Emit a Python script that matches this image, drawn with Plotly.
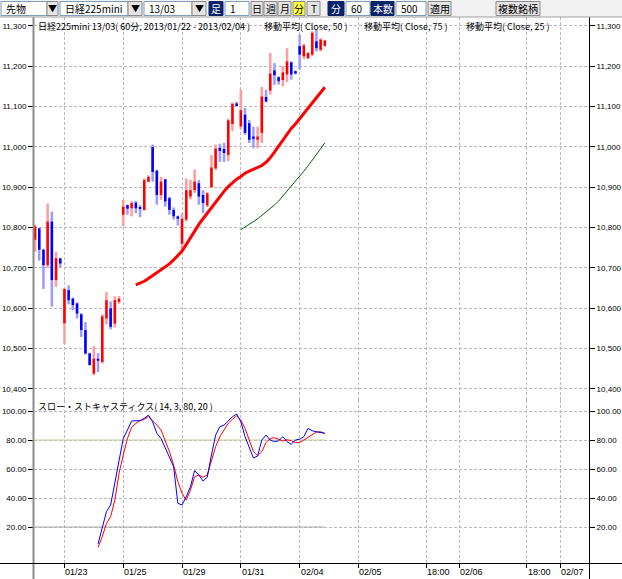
import plotly.graph_objects as go

# ---------------- data ----------------
bar_index = list(range(70))
open_ = [10770, 10798, 10745, 10707, 10815, 10670, 10724,
         10563, 10645, 10624, 10612, 10585, 10546, 10488,
         10438, 10475, 10467, 10575, 10600, 10562, 10616,
         10832, 10856, 10848, 10862, 10850, 10844, 10914,
         11000, 10941, 10881, 10920, 10873, 10844, 10828,
         10760, 10820, 10877, 10893, 10910, 10881, 10855,
         10900, 10947, 10998, 10995, 10980, 11057, 11108,
         11051, 11080, 11059, 11026, 11018, 11035, 11124,
         11140, 11190, 11173, 11166, 11180, 11210, 11188,
         11250, 11225, 11220, 11229, 11262, 11241, 11251]
high = [10808, 10800, 10748, 10860, 10840, 10740, 10724,
        10649, 10657, 10627, 10615, 10588, 10566, 10490,
        10506, 10489, 10585, 10640, 10617, 10630, 10630,
        10869, 10857, 10866, 10866, 10856, 10922, 10930,
        11006, 10944, 10926, 10920, 10877, 10850, 10830,
        10836, 10922, 10918, 10944, 10918, 10893, 10888,
        10980, 11006, 11008, 11010, 11070, 11110, 11112,
        11142, 11097, 11067, 11050, 11050, 11149, 11142,
        11233, 11208, 11175, 11200, 11245, 11212, 11190,
        11279, 11256, 11235, 11287, 11291, 11270, 11266]
low = [10740, 10718, 10648, 10700, 10604, 10653, 10700,
       10512, 10610, 10595, 10575, 10529, 10485, 10459,
       10434, 10442, 10463, 10560, 10548, 10552, 10611,
       10803, 10832, 10828, 10836, 10826, 10842, 10912,
       10914, 10857, 10869, 10852, 10832, 10820, 10805,
       10738, 10815, 10870, 10886, 10857, 10836, 10851,
       10898, 10943, 10963, 10963, 10965, 11040, 11100,
       11045, 11030, 11010, 10997, 10997, 11010, 11110,
       11130, 11154, 11155, 11150, 11161, 11167, 11180,
       11192, 11218, 11218, 11225, 11237, 11237, 11248]
close = [10803, 10745, 10707, 10815, 10670, 10724, 10711,
         10648, 10620, 10608, 10587, 10546, 10488, 10459,
         10475, 10470, 10580, 10620, 10554, 10620, 10624,
         10852, 10847, 10861, 10848, 10847, 10918, 10926,
         10938, 10881, 10914, 10865, 10844, 10828, 10822,
         10822, 10893, 10893, 10914, 10877, 10861, 10885,
         10949, 10996, 10990, 10985, 11066, 11107, 11104,
         11091, 11035, 11018, 11020, 11026, 11125, 11113,
         11182, 11178, 11163, 11185, 11212, 11180, 11182,
         11229, 11252, 11233, 11283, 11245, 11266, 11264]

# moving average (Close, 50): last 46 bars
ma50 = [10658, 10662, 10667, 10674, 10681, 10688, 10694, 10701, 10710, 10720,
        10732, 10742, 10758, 10775, 10792, 10808, 10822, 10836, 10850, 10864,
        10878, 10890, 10902, 10912, 10920, 10927, 10935, 10940, 10944, 10948,
        10954, 10962, 10973, 10987, 11002, 11018, 11034, 11046, 11057, 11070,
        11083, 11097, 11111, 11124, 11137, 11148]
# moving average (Close, 75): last 21 bars
ma75 = [10795, 10801, 10808, 10815, 10822, 10830, 10838, 10847, 10856, 10866,
        10878, 10890, 10903, 10916, 10928, 10940, 10953, 10967, 10981, 10996,
        11010]

# slow stochastics (14, 3, 80, 20): last 55 bars
stoch_k = [8.3, 20.2, 30.6, 35.2, 50.1, 65.1, 81.1, 86.9, 93.1, 93.3,
           93.3, 94.9, 97.2, 92.6, 84.6, 81.1, 74.3, 67.4, 61.6, 36.3,
           35.2, 40.9, 47.8, 58.9, 55.9, 51.7, 54.3, 69.7, 83.4, 89.2,
           90.3, 93.1, 96.1, 97.9, 92.6, 82.3, 74.3, 67.6, 69.0, 80.0,
           83.4, 80.0, 78.9, 79.5, 82.3, 78.9, 77.0, 80.0, 80.5, 82.3,
           88.0, 86.4, 85.7, 85.1, 84.6]
stoch_d = [6.0, 13.3, 22.5, 27.1, 38.6, 57.0, 69.7, 81.1, 88.7, 91.5,
           93.3, 94.3, 96.1, 93.3, 90.3, 86.9, 80.0, 72.0, 62.8, 51.3,
           43.2, 38.6, 45.5, 54.7, 55.9, 54.3, 55.9, 66.2, 75.4, 82.3,
           87.4, 91.5, 94.3, 96.6, 93.8, 88.0, 80.0, 72.0, 69.2, 72.0,
           78.2, 81.1, 81.6, 80.5, 79.3, 80.2, 79.5, 78.2, 78.2, 80.0,
           81.8, 83.9, 85.5, 85.7, 84.6]
stoch_levels = [80, 20]

price_ticks = [10400, 10500, 10600, 10700, 10800, 10900, 11000, 11100, 11200, 11300]
stoch_ticks = [20, 40, 60, 80, 100]
xtick_pos = [7, 21, 35, 49, 63, 77, 93.1, 101, 117.1, 125]
xtick_text = ["01/23", "01/25", "01/29", "01/31", "02/04",
              "02/05", "18:00", "02/06", "18:00", "02/07"]

title_text = "日経225mini 13/03( 60分, 2013/01/22 - 2013/02/04 )"
ma_labels = ["移動平均( Close, 50 )", "移動平均( Close, 75 )", "移動平均( Close, 25 )"]
stoch_label = "スロー・ストキャスティクス( 14, 3, 80, 20 )"

# ---------------- layout helpers ----------------
W, H = 622, 579
ML, MR, MT, MB = 34, 33, 17, 16
PW, PH = W - ML - MR, H - MT - MB


def px(x):
    return (x - ML) / PW


def py(y):
    return (H - MB - y) / PH


split = py(400)
NUMFONT = "Liberation Sans, Arial, sans-serif"
JPFONT = "Noto Sans CJK JP"
GRIDC = "#bdb6c6"

fig = go.Figure()

# candles: pale high-low range + solid body
for is_up, solid, pale in [(True, "#ff0000", "#ff9c9c"), (False, "#0000ff", "#9c9cff")]:
    sel = [i for i in bar_index if (close[i] >= open_[i]) == is_up]
    fig.add_trace(go.Bar(
        x=sel, y=[high[i] - low[i] for i in sel], base=[low[i] for i in sel],
        width=0.6, marker=dict(color=pale, line=dict(width=0)),
        yaxis="y", hoverinfo="skip"))
    fig.add_trace(go.Bar(
        x=sel, y=[max(abs(close[i] - open_[i]), 3) for i in sel],
        base=[min(open_[i], close[i]) for i in sel],
        width=0.6, marker=dict(color=solid, line=dict(width=0)),
        yaxis="y", hoverinfo="skip"))

fig.add_trace(go.Scatter(x=bar_index[len(bar_index) - len(ma50):], y=ma50, mode="lines",
                         line=dict(color="#ff0000", width=3), yaxis="y"))
fig.add_trace(go.Scatter(x=bar_index[len(bar_index) - len(ma75):], y=ma75, mode="lines",
                         line=dict(color="#006400", width=1), yaxis="y"))

# stochastics
lvl_colors = ["#cccc99", "#a8a8a8"]
for lv, col in zip(stoch_levels, lvl_colors):
    fig.add_trace(go.Scatter(x=[bar_index[0], bar_index[-1]], y=[lv, lv], mode="lines",
                             line=dict(color=col, width=1), yaxis="y2"))
sx = bar_index[len(bar_index) - len(stoch_k):]
fig.add_trace(go.Scatter(x=sx, y=stoch_d, mode="lines", line=dict(color="#ff0000", width=1), yaxis="y2"))
fig.add_trace(go.Scatter(x=sx, y=stoch_k, mode="lines", line=dict(color="#0000ff", width=1), yaxis="y2"))

# invisible traces to carry the right-hand axes
fig.add_trace(go.Scatter(x=[bar_index[0]], y=[close[0]], mode="markers", marker=dict(opacity=0),
                         yaxis="y3", hoverinfo="skip"))
fig.add_trace(go.Scatter(x=[bar_index[0]], y=[stoch_k[0]], mode="markers", marker=dict(opacity=0),
                         yaxis="y4", hoverinfo="skip"))

price_range = [10372.6, 11322.3]
stoch_range = [-4.83, 107.6]
tickfont = dict(family=NUMFONT, size=8, color="#000000")
grid = dict(showgrid=True, gridcolor=GRIDC, griddash="3px,2px", gridwidth=1, zeroline=False)
yticks = dict(ticks="outside", ticklen=5, tickcolor="#000000", tickwidth=1, tickfont=tickfont,
              showline=False, automargin=False)

fig.update_layout(
    width=W, height=H,
    margin=dict(l=ML, r=MR, t=MT, b=MB, pad=0, autoexpand=False),
    paper_bgcolor="white", plot_bgcolor="white",
    barmode="overlay", showlegend=False, hovermode=False,
    xaxis=dict(domain=[0, 1], range=[-0.25, 131.9], anchor="y2", tickvals=xtick_pos,
               ticks="outside", ticklen=4, tickcolor="#000000", showticklabels=False,
               showline=False, automargin=False, **grid),
    yaxis=dict(domain=[split, 1], range=price_range, tickvals=price_ticks, tickformat=",",
               anchor="x", **yticks, **grid),
    yaxis2=dict(domain=[0, split], range=stoch_range, tickvals=stoch_ticks, tickformat=".2f",
                anchor="x", **yticks, **grid),
    yaxis3=dict(overlaying="y", side="right", range=price_range, tickvals=price_ticks,
                tickformat=",", anchor="x", showgrid=False, zeroline=False, **yticks),
    yaxis4=dict(overlaying="y2", side="right", range=stoch_range, tickvals=stoch_ticks,
                tickformat=".2f", anchor="x", showgrid=False, zeroline=False, **yticks),
)

shapes = []
annots = []

# frame lines
shapes.append(dict(type="line", xref="paper", yref="paper", x0=px(33.5), x1=px(33.5),
                   y0=py(579), y1=py(17), line=dict(color="#8c8c8c", width=2)))
shapes.append(dict(type="line", xref="paper", yref="paper", x0=px(589.5), x1=px(589.5),
                   y0=py(579), y1=py(17), line=dict(color="#000000", width=1)))
shapes.append(dict(type="line", xref="paper", yref="paper", x0=px(0), x1=px(622),
                   y0=py(563.5), y1=py(563.5), line=dict(color="#000000", width=1)))

# toolbar
shapes.append(dict(type="rect", xref="paper", yref="paper", x0=px(0), x1=px(622),
                   y0=py(17), y1=py(0), fillcolor="#f2f2f2", line=dict(width=0), layer="above"))
shapes.append(dict(type="line", xref="paper", yref="paper", x0=px(0), x1=px(622),
                   y0=py(17), y1=py(17), line=dict(color="#a0a0a0", width=1), layer="above"))
toolbar = [
    (1, 47, "field", "先物"), (47, 58, "button", "▼"),
    (60, 128, "field", "日経225mini"), (128, 142, "button", "▼"),
    (144, 192, "field", "13/03"), (192, 206, "button", "▼"),
    (209, 223, "navy", "足"), (225, 249, "field", "1"),
    (251, 263, "button", "日"), (264, 277, "button", "週"), (278, 291, "button", "月"),
    (293, 305, "yellow", "分"), (307, 320, "button", "T"),
    (328, 344, "navy", "分"), (346, 370, "field", "60"),
    (371, 394, "navy", "本数"), (396, 426, "field", "500"),
    (428, 451, "button", "適用"), (496, 540, "button", "複数銘柄"),
]
styles = {
    "field": ("#ffffff", "#7f9db9", "#000000"),
    "button": ("#e4e4e4", "#8a8a8a", "#000000"),
    "navy": ("#0a246a", "#0a246a", "#ffffff"),
    "yellow": ("#ffff40", "#8a8a8a", "#000000"),
}
for x0, x1, st, label in toolbar:
    fill, border, tcol = styles[st]
    shapes.append(dict(type="rect", xref="paper", yref="paper", x0=px(x0), x1=px(x1),
                       y0=py(15.5), y1=py(1.5), fillcolor=fill,
                       line=dict(color=border, width=1), layer="above"))
    if st == "field":
        annots.append(dict(x=px(x0 + 3), y=py(8.5), xref="paper", yref="paper", text=label,
                           xanchor="left", yanchor="middle", showarrow=False,
                           font=dict(family=JPFONT, size=10, color=tcol)))
    else:
        annots.append(dict(x=px((x0 + x1) / 2), y=py(8.5), xref="paper", yref="paper", text=label,
                           xanchor="center", yanchor="middle", showarrow=False,
                           font=dict(family=JPFONT, size=9 if label == "▼" else 10, color=tcol)))

# header texts
annots.append(dict(x=px(36), y=py(17.5), xref="paper", yref="paper", text=title_text,
                   xanchor="left", yanchor="top", showarrow=False,
                   font=dict(family=JPFONT, size=9, color="#000000")))
for xpos, lab in zip([262, 362, 464], ma_labels):
    annots.append(dict(x=px(xpos), y=py(17.5), xref="paper", yref="paper", text=lab,
                       xanchor="left", yanchor="top", showarrow=False,
                       font=dict(family=JPFONT, size=9, color="#000000")))
annots.append(dict(x=px(36), y=py(398), xref="paper", yref="paper", text=stoch_label,
                   xanchor="left", yanchor="top", showarrow=False,
                   font=dict(family=JPFONT, size=9, color="#000000")))

# x tick labels (left-aligned at the tick, like the original)
for xv, lab in zip(xtick_pos, xtick_text):
    annots.append(dict(x=xv, xref="x", y=py(565), yref="paper", text=lab,
                       xanchor="left", yanchor="top", showarrow=False, xshift=-1,
                       font=dict(family=NUMFONT, size=9, color="#000000")))

fig.update_layout(shapes=shapes, annotations=annots)
fig.write_html("out.html")
